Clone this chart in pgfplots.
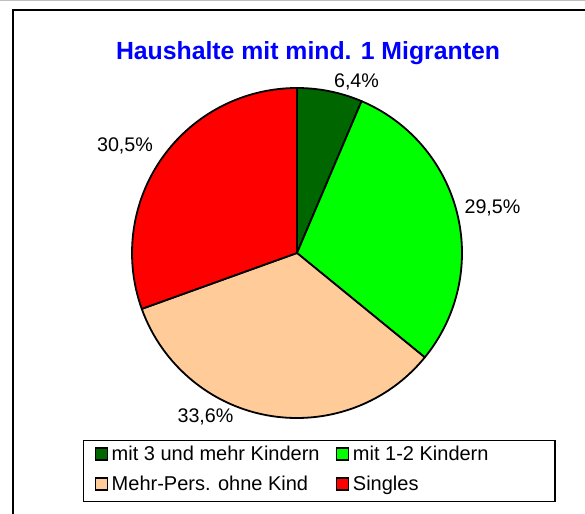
\documentclass[border=0pt]{standalone}
\usepackage{pgfplots}
\pgfplotsset{compat=1.18}
\usepackage{pgfplotstable}
\usepackage{fontspec}
\setmainfont{Liberation Sans}
\definecolor{dgreen}{RGB}{0,102,0}
\definecolor{lgreen}{RGB}{0,255,0}
\definecolor{peach}{RGB}{255,204,153}
\definecolor{sred}{RGB}{255,0,0}
\definecolor{tblue}{RGB}{0,0,255}

\pgfplotstableread[col sep=comma]{
label,pct
mit 3 und mehr Kindern,6.4
mit 1-2 Kindern,29.5
Mehr-Pers. ohne Kind,33.6
Singles,30.5
}\piedata

\pgfplotstablegetelem{0}{pct}\of\piedata\edef\pA{\pgfplotsretval}
\pgfplotstablegetelem{1}{pct}\of\piedata\edef\pB{\pgfplotsretval}
\pgfplotstablegetelem{2}{pct}\of\piedata\edef\pC{\pgfplotsretval}
\pgfplotstablegetelem{3}{pct}\of\piedata\edef\pD{\pgfplotsretval}
\pgfmathsetmacro\aO{90}
\pgfmathsetmacro\aA{\aO-3.6*\pA}
\pgfmathsetmacro\aB{\aA-3.6*\pB}
\pgfmathsetmacro\aC{\aB-3.6*\pC}
\pgfmathsetmacro\aD{\aC-3.6*\pD}

\newcommand\pieslice[3]{%
  \filldraw[fill=#3, draw=black, line width=1.8pt, line join=round]
    (axis cs:0,0) -- ++(#1:165pt) arc[start angle=#1, end angle=#2, radius=165pt] -- cycle;}

\begin{document}
\begin{tikzpicture}
\useasboundingbox (0,0) rectangle (585pt,513pt);
\fill[white] (0,0) rectangle (585pt,513pt);
\draw[gray!50, line width=1pt] (0pt,512.5pt) -- (585pt,512.5pt);
\draw[black, line width=1.6pt] (13pt,-5pt) -- (13pt,503pt) -- (590pt,503pt);
\begin{axis}[
  hide axis, scale only axis,
  width=330pt, height=330pt,
  xmin=-165, xmax=165, ymin=-165, ymax=165,
  clip=false,
  at={(297pt,260pt)}, anchor=origin,
  legend columns=2,
  legend image code/.code={\draw[#1] (0pt,-4pt) rectangle (12pt,8pt);},
  legend style={at={(-0.1485,-0.0667)}, anchor=north west,
    draw=black, line width=1.1pt, fill=white,
    inner xsep=11.5pt, inner ysep=0.5pt,
    font=\fontsize{20}{24}\selectfont,
    nodes={inner xsep=3.5pt, inner ysep=4pt, text height=15pt, text depth=7pt},
    cells={anchor=west}},
]
\pieslice{\aO}{\aA}{dgreen}
\pieslice{\aA}{\aB}{lgreen}
\pieslice{\aB}{\aC}{peach}
\pieslice{\aC}{\aD}{sred}

\addlegendimage{fill=dgreen, draw=black, line width=1.2pt}
\addlegendentry{\makebox[221pt][l]{mit 3 und mehr Kindern}}
\addlegendimage{fill=lgreen, draw=black, line width=1.2pt}
\addlegendentry{\makebox[187pt][l]{mit 1-2 Kindern}}
\addlegendimage{fill=peach, draw=black, line width=1.2pt}
\addlegendentry{\makebox[221pt][l]{Mehr-Pers. ohne Kind}}
\addlegendimage{fill=sred, draw=black, line width=1.2pt}
\addlegendentry{\makebox[187pt][l]{Singles}}

\node[font=\bfseries\fontsize{24.8}{30}\selectfont, text=tblue, anchor=base]
  at (axis cs:11,193) {Haushalte mit mind. 1 Migranten};
\begin{scope}[every node/.style={font=\fontsize{19.7}{24}\selectfont, anchor=base, inner sep=0pt}]
\node at (axis cs:59.5,165) {6,4\%};
\node at (axis cs:195.5,39) {29,5\%};
\node at (axis cs:-91.5,-170) {33,6\%};
\node at (axis cs:-172,101) {30,5\%};
\end{scope}
\end{axis}
\end{tikzpicture}
\end{document}
